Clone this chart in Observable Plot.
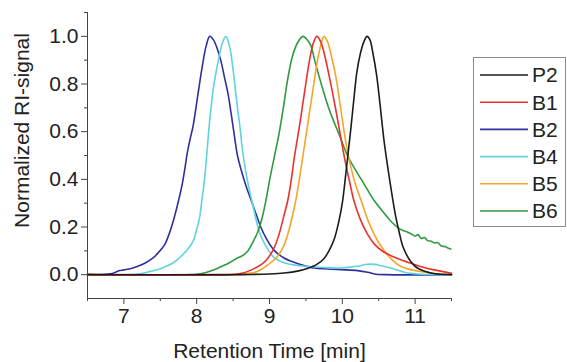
<!DOCTYPE html>
<html>
<head>
<meta charset="utf-8">
<script src="https://cdn.jsdelivr.net/npm/d3@7"></script>
<script src="https://cdn.jsdelivr.net/npm/@observablehq/plot@0.6"></script>
<style>
  html, body { margin: 0; padding: 0; background: #fff; }
  #chart { width: 567px; height: 362px; }
</style>
</head>
<body>
<div id="chart"></div>
<script>
// ---- Data (retention time [min], normalized RI-signal) ----
const seriesNames = ["P2", "B1", "B2", "B4", "B5", "B6"];
const seriesColors = ["#1c1c1c", "#e8322e", "#2e309c", "#5fd3df", "#f5a52a", "#2f9a3f"];

const xTicks = [7, 8, 9, 10, 11];
const xMinorTicks = [6.5, 7.5, 8.5, 9.5, 10.5, 11.5];
const yTicks = [0, 0.2, 0.4, 0.6, 0.8, 1.0];
const yMinorTicks = [0.1, 0.3, 0.5, 0.7, 0.9, 1.1];

const P2 = [
  [6.5, 0], [8.5, 0], [8.75, 0.001], [9.0, 0.003], [9.2, 0.007], [9.4, 0.016], [9.52, 0.026],
  [9.65, 0.043], [9.75, 0.068], [9.82, 0.102], [9.89, 0.15], [9.95, 0.22], [10.0, 0.30],
  [10.04, 0.40], [10.08, 0.51], [10.12, 0.62], [10.16, 0.74], [10.2, 0.85], [10.25, 0.93],
  [10.3, 0.98], [10.34, 1.0], [10.38, 0.985], [10.42, 0.93], [10.47, 0.84], [10.52, 0.71],
  [10.57, 0.57], [10.62, 0.46], [10.67, 0.36], [10.73, 0.25], [10.78, 0.18], [10.83, 0.12],
  [10.88, 0.085], [10.94, 0.055], [11.02, 0.03], [11.12, 0.015], [11.25, 0.005], [11.5, 0]
];
const B1 = [
  [6.5, 0], [8.5, 0.001], [8.65, 0.008], [8.75, 0.02], [8.9, 0.045], [8.98, 0.07], [9.06, 0.11],
  [9.13, 0.168], [9.2, 0.25], [9.25, 0.31], [9.3, 0.40], [9.34, 0.49], [9.41, 0.62], [9.48, 0.763],
  [9.55, 0.90], [9.6, 0.97], [9.65, 1.0], [9.7, 0.98], [9.75, 0.93], [9.82, 0.833], [9.91, 0.693],
  [10.0, 0.54], [10.05, 0.46], [10.1, 0.39], [10.16, 0.31], [10.25, 0.23], [10.35, 0.168],
  [10.45, 0.125], [10.57, 0.095], [10.7, 0.075], [10.9, 0.052], [11.1, 0.032], [11.26, 0.02],
  [11.5, 0.006]
];
const B2 = [
  [6.5, 0], [6.7, 0], [6.75, 0.002], [6.85, 0.006], [6.93, 0.016], [7.0, 0.02], [7.1, 0.026],
  [7.19, 0.035], [7.3, 0.05], [7.4, 0.07], [7.48, 0.095], [7.56, 0.126], [7.62, 0.17],
  [7.69, 0.238], [7.75, 0.31], [7.8, 0.378], [7.84, 0.45], [7.87, 0.51], [7.91, 0.57],
  [7.95, 0.623], [8.02, 0.763], [8.08, 0.88], [8.13, 0.96], [8.18, 1.0], [8.23, 0.985],
  [8.28, 0.95], [8.33, 0.90], [8.38, 0.83], [8.43, 0.76], [8.5, 0.62], [8.56, 0.50],
  [8.61, 0.44], [8.68, 0.37], [8.75, 0.31], [8.82, 0.25], [8.88, 0.20], [8.95, 0.155],
  [9.07, 0.10], [9.2, 0.07], [9.3, 0.056], [9.45, 0.04], [9.61, 0.028], [9.8, 0.024],
  [9.98, 0.021], [10.21, 0.017], [10.35, 0.01], [10.44, 0.003], [10.6, 0], [11.5, 0]
];
const B4 = [
  [6.5, 0], [7.2, 0.003], [7.37, 0.014], [7.5, 0.025], [7.58, 0.035], [7.68, 0.05], [7.76, 0.07],
  [7.86, 0.10], [7.95, 0.14], [8.0, 0.19], [8.04, 0.24], [8.07, 0.31], [8.1, 0.38], [8.14, 0.51],
  [8.17, 0.62], [8.22, 0.763], [8.26, 0.84], [8.3, 0.903], [8.35, 0.97], [8.4, 1.0], [8.45, 0.96],
  [8.5, 0.86], [8.53, 0.78], [8.56, 0.70], [8.59, 0.63], [8.63, 0.52], [8.67, 0.44], [8.72, 0.36],
  [8.78, 0.28], [8.86, 0.18], [8.95, 0.12], [9.07, 0.07], [9.2, 0.05], [9.35, 0.04], [9.52, 0.035],
  [9.75, 0.03], [9.98, 0.028], [10.2, 0.035], [10.35, 0.044], [10.45, 0.043], [10.55, 0.036],
  [10.67, 0.028], [10.8, 0.015], [10.9, 0.007], [11.1, 0.002], [11.5, 0]
];
const B5 = [
  [6.5, 0], [8.6, 0.001], [8.75, 0.007], [8.84, 0.014], [8.95, 0.035], [9.09, 0.07], [9.18, 0.11],
  [9.25, 0.168], [9.31, 0.24], [9.36, 0.31], [9.41, 0.40], [9.46, 0.50], [9.52, 0.62],
  [9.59, 0.763], [9.66, 0.90], [9.71, 0.97], [9.75, 1.0], [9.8, 0.975], [9.84, 0.93],
  [9.91, 0.833], [9.98, 0.693], [10.05, 0.553], [10.12, 0.448], [10.19, 0.37], [10.26, 0.31],
  [10.35, 0.23], [10.44, 0.168], [10.53, 0.12], [10.62, 0.084], [10.7, 0.058], [10.8, 0.035],
  [10.95, 0.02], [11.12, 0.011], [11.3, 0.004], [11.5, 0.001]
];
const B6 = [
  [6.5, 0], [8.0, 0.002], [8.1, 0.007], [8.2, 0.016], [8.33, 0.033], [8.45, 0.05], [8.56, 0.07],
  [8.63, 0.08], [8.7, 0.098], [8.77, 0.135], [8.84, 0.18], [8.9, 0.24], [8.95, 0.31], [9.01, 0.41],
  [9.07, 0.50], [9.13, 0.59], [9.19, 0.70], [9.25, 0.82], [9.31, 0.91], [9.38, 0.97], [9.46, 1.0],
  [9.52, 0.985], [9.57, 0.96], [9.62, 0.90], [9.68, 0.833], [9.75, 0.76], [9.82, 0.693],
  [9.9, 0.63], [9.98, 0.57], [10.07, 0.50], [10.18, 0.44], [10.3, 0.38], [10.44, 0.31],
  [10.57, 0.26], [10.68, 0.22], [10.8, 0.19], [10.9, 0.178], [10.95, 0.17], [11.0, 0.162],
  [11.04, 0.168], [11.08, 0.152], [11.13, 0.156], [11.17, 0.143], [11.22, 0.14], [11.27, 0.133],
  [11.31, 0.135], [11.36, 0.12], [11.41, 0.118], [11.45, 0.112], [11.49, 0.108]
];

const seriesData = { P2, B1, B2, B4, B5, B6 };
const drawOrder = ["B2", "B4", "B6", "B5", "B1", "P2"];
const rows = drawOrder.flatMap(name => seriesData[name].map(([t, v]) => ({ series: name, t, v })));

const FONT = "Liberation Sans, Arial, Helvetica, sans-serif";
const AXIS = "#444";
const FS = 21;

const chart = Plot.plot({
  width: 567,
  height: 362,
  marginLeft: 87,
  marginRight: 116,
  marginTop: 12,
  marginBottom: 64,
  style: { fontFamily: FONT, fontSize: FS + "px", color: "#222", background: "#fff" },
  x: { domain: [6.5, 11.5], label: null },
  y: { domain: [-0.1, 1.1], label: null },
  color: { domain: seriesNames, range: seriesColors },
  marks: [
    Plot.line(rows, {
      x: "t", y: "v", z: "series", stroke: "series",
      strokeWidth: 1.6, curve: "catmull-rom"
    }),
    Plot.ruleX([6.5], { stroke: AXIS, strokeWidth: 1 }),
    Plot.ruleY([-0.1], { stroke: AXIS, strokeWidth: 1 }),
    Plot.axisX(xTicks, { tickSize: 6, tickPadding: 4, stroke: AXIS, fill: "#222", label: null, fontSize: FS }),
    Plot.axisX(xMinorTicks, { tickSize: 3, tickFormat: () => "", stroke: AXIS, label: null }),
    Plot.axisY(yTicks, { tickSize: 6, tickPadding: 3, tickFormat: d3.format(".1f"), stroke: AXIS, fill: "#222", label: null, fontSize: FS }),
    Plot.axisY(yMinorTicks, { tickSize: 3, tickFormat: () => "", stroke: AXIS, label: null }),
    Plot.text(["Retention Time [min]"], {
      frameAnchor: "bottom", dy: 59, lineAnchor: "bottom", textAnchor: "middle",
      fontSize: FS, fill: "#222"
    }),
    Plot.text(["Normalized RI-signal"], {
      frameAnchor: "top-left", dx: -65, dy: 118, rotate: -90,
      textAnchor: "middle", lineAnchor: "middle", fontSize: FS, fill: "#222"
    })
  ]
});

document.getElementById("chart").appendChild(chart);

// ---- Legend (box on the right, drawn into the same SVG) ----
const svg = d3.select(chart);
const lg = svg.append("g").attr("font-family", FONT).attr("font-size", FS).attr("text-anchor", "start");
const boxX = 473, boxY = 57, boxW = 93, boxH = 169, rowH = 27.2, firstY = 75;
lg.append("rect")
  .attr("x", boxX + 0.5).attr("y", boxY + 0.5)
  .attr("width", boxW - 1).attr("height", boxH)
  .attr("fill", "#fff").attr("stroke", "#8a8a8a").attr("stroke-width", 1);
seriesNames.forEach((name, i) => {
  const y = firstY + i * rowH;
  lg.append("line")
    .attr("x1", boxX + 7).attr("x2", boxX + 55)
    .attr("y1", y).attr("y2", y)
    .attr("stroke", seriesColors[i]).attr("stroke-width", 1.6);
  lg.append("text")
    .attr("x", boxX + 59).attr("y", y)
    .attr("dy", "0.35em")
    .attr("text-anchor", "start")
    .attr("fill", "#222")
    .text(name);
});
</script>
</body>
</html>
